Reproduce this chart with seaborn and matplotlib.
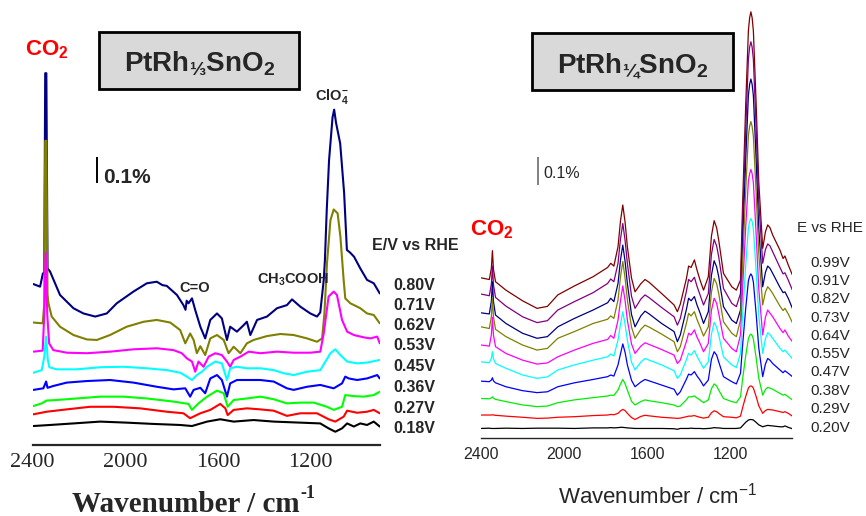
import matplotlib
matplotlib.use("Agg")
import matplotlib.pyplot as plt
import pandas as pd
import seaborn as sns
from matplotlib.patches import Rectangle
from matplotlib.font_manager import FontProperties, findfont
from matplotlib.ft2font import FT2Font

sns.set_style("white")
plt.rcParams["font.family"] = ["Liberation Sans", "DejaVu Sans"]
plt.rcParams["mathtext.fontset"] = "custom"
plt.rcParams["mathtext.rm"] = "Liberation Sans"
plt.rcParams["mathtext.bf"] = "Liberation Sans:bold"
plt.rcParams["mathtext.it"] = "Liberation Sans:italic"

# ---------------------------------------------------------------------------
# Data: in-situ FTIR difference spectra, intensity in units of 0.1 % (offset stacked)
# ---------------------------------------------------------------------------

# PtRh1/3/SnO2 electrode: (wavenumber, intensity) per potential
left_080 = [(2397, 6.19), (2368, 6.09), (2356, 6.6), (2350, 6.6), (2346, 14.3), (2341, 14.3),
            (2336, 6.8), (2325, 6.67), (2282, 5.77), (2224, 5.26), (2181, 5.06), (2130, 4.94),
            (2080, 5.06), (2037, 5.45), (1965, 5.9), (1907, 6.22), (1864, 6.28), (1840, 6.15),
            (1821, 6.12), (1777, 5.77), (1749, 5.38), (1740, 5.2), (1735, 5.55), (1727, 5.45),
            (1712, 5.64), (1698, 5.19), (1676, 4.55), (1655, 4.1), (1633, 4.81), (1604, 5.06),
            (1583, 4.87), (1561, 4.04), (1547, 4.55), (1518, 4.36), (1490, 4.6), (1475, 4.74),
            (1460, 4.23), (1431, 4.81), (1388, 4.94), (1345, 5.26), (1302, 5.38), (1280, 5.6),
            (1244, 5.32), (1201, 5.06), (1172, 4.94), (1158, 5.1), (1143, 6.35), (1138, 7.1),
            (1130, 9.04), (1120, 10.96), (1105, 12.6), (1098, 12.9), (1090, 12.4), (1072, 11.6),
            (1055, 9.7), (1043, 7.5), (1029, 7.4), (1012, 7.24), (985, 6.79), (956, 6.35),
            (927, 6.22), (901, 5.83)]
left_071 = [(2397, 4.71), (2357, 4.68), (2350, 5.4), (2346, 11.7), (2341, 11.7), (2336, 5.8),
            (2332, 5.45), (2318, 4.94), (2282, 4.55), (2224, 4.23), (2166, 4.06), (2123, 4.04),
            (2066, 4.23), (1994, 4.55), (1921, 4.74), (1864, 4.81), (1806, 4.71), (1763, 4.42),
            (1741, 3.91), (1720, 4.29), (1705, 4.04), (1691, 3.53), (1676, 3.8), (1655, 3.46),
            (1633, 4.1), (1604, 4.23), (1575, 4.04), (1554, 3.53), (1532, 3.78), (1503, 3.53),
            (1475, 3.91), (1446, 4.04), (1388, 4.19), (1330, 4.27), (1273, 4.23), (1215, 4.1),
            (1172, 3.97), (1150, 4.1), (1140, 5.06), (1129, 6.99), (1114, 8.65), (1100, 9.06),
            (1083, 8.91), (1071, 8.01), (1057, 6.35), (1050, 5.64), (1028, 5.45), (985, 5.26),
            (956, 5.06), (927, 5.0), (901, 4.68)]
left_062 = [(2397, 3.59), (2357, 3.63), (2350, 5.0), (2344, 7.4), (2337, 5.0), (2329, 3.91),
            (2311, 3.65), (2253, 3.55), (2166, 3.53), (2066, 3.59), (1965, 3.68), (1864, 3.72),
            (1792, 3.65), (1756, 3.53), (1734, 3.33), (1712, 3.21), (1698, 2.82), (1684, 3.21),
            (1662, 3.01), (1640, 3.4), (1611, 3.53), (1583, 3.46), (1561, 3.21), (1547, 3.01),
            (1532, 3.27), (1503, 3.4), (1467, 3.59), (1417, 3.53), (1345, 3.59), (1273, 3.55),
            (1201, 3.55), (1158, 3.59), (1143, 4.29), (1122, 5.71), (1100, 5.9), (1086, 5.77),
            (1064, 4.81), (1042, 4.36), (1013, 4.23), (970, 4.14), (941, 4.1), (912, 4.17),
            (901, 3.91)]
left_053 = [(2397, 2.78), (2361, 2.88), (2350, 3.4), (2342, 4.17), (2335, 3.3), (2328, 2.99),
            (2296, 2.91), (2210, 2.91), (2109, 2.99), (2008, 3.01), (1907, 2.95), (1821, 2.88),
            (1763, 2.78), (1734, 2.63), (1712, 2.5), (1691, 2.69), (1669, 2.82), (1647, 3.01),
            (1611, 3.21), (1583, 3.14), (1561, 2.5), (1547, 2.95), (1518, 3.01), (1475, 2.95),
            (1417, 2.95), (1359, 2.88), (1316, 2.76), (1273, 2.69), (1215, 2.82), (1158, 2.88),
            (1114, 3.53), (1093, 3.68), (1071, 3.46), (1042, 3.21), (999, 3.14), (956, 3.17),
            (901, 3.27)]
left_045 = [(2397, 2.12), (2354, 2.18), (2342, 2.44), (2336, 2.2), (2311, 2.27), (2253, 2.4),
            (2166, 2.46), (2066, 2.5), (1965, 2.4), (1864, 2.24), (1792, 2.14), (1741, 2.18),
            (1720, 1.86), (1705, 2.12), (1676, 2.2), (1655, 1.99), (1633, 2.56), (1604, 2.69),
            (1583, 2.5), (1561, 1.86), (1547, 2.37), (1518, 2.5), (1475, 2.5), (1417, 2.5),
            (1359, 2.44), (1302, 2.18), (1273, 2.12), (1215, 2.24), (1158, 2.31), (1100, 2.18),
            (1064, 2.37), (1050, 2.63), (1035, 2.56), (999, 2.5), (956, 2.56), (912, 2.69),
            (901, 2.56)]
left_036 = [(2397, 1.5), (2361, 1.6), (2340, 1.71), (2296, 1.73), (2210, 1.79), (2109, 1.86),
            (2008, 1.86), (1907, 1.79), (1792, 1.67), (1727, 1.58), (1712, 1.35), (1684, 1.6),
            (1647, 1.86), (1604, 2.09), (1575, 1.99), (1558, 1.47), (1532, 1.73), (1475, 1.79),
            (1417, 1.86), (1359, 1.76), (1302, 1.6), (1244, 1.63), (1186, 1.63), (1129, 1.47),
            (1100, 1.35), (1064, 1.47), (1050, 1.92), (1013, 1.88), (970, 1.86), (927, 1.92),
            (901, 2.05)]
left_027 = [(2397, 1.18), (2340, 1.28), (2253, 1.37), (2152, 1.47), (2051, 1.47), (1936, 1.41),
            (1821, 1.28), (1749, 1.22), (1720, 1.03), (1676, 1.22), (1633, 1.35), (1590, 1.58),
            (1568, 1.41), (1558, 1.15), (1532, 1.35), (1475, 1.41), (1417, 1.37), (1359, 1.32),
            (1302, 1.12), (1244, 1.22), (1172, 1.22), (1122, 0.99), (1093, 0.9), (1057, 1.09),
            (1042, 1.32), (999, 1.24), (956, 1.28), (927, 1.35), (901, 1.22)]
left_018 = [(2397, 0.73), (2325, 0.77), (2224, 0.83), (2109, 0.9), (1994, 0.86), (1878, 0.81),
            (1763, 0.77), (1712, 0.73), (1647, 0.9), (1590, 0.99), (1532, 0.9), (1446, 0.96),
            (1359, 0.9), (1244, 0.86), (1158, 0.83), (1122, 0.64), (1093, 0.51), (1064, 0.64),
            (1042, 0.83), (1013, 0.71), (985, 0.83), (956, 0.77), (927, 0.9), (901, 0.71)]

left_potentials = ["0.80V", "0.71V", "0.62V", "0.53V", "0.45V", "0.36V", "0.27V", "0.18V"]
left_spectra = [left_080, left_071, left_062, left_053, left_045, left_036, left_027, left_018]
left_colors = ["#000080", "#808000", "#ff00ff", "#00ffff", "#0000ff", "#00ff00", "#ff0000", "#000000"]

# PtRh1/4/SnO2 electrode: common wavenumber grid
right_wn = [2400, 2360, 2350, 2345, 2340, 2330, 2280, 2200, 2130, 2080,
            2030, 1950, 1860, 1790, 1775, 1760, 1740, 1728, 1717, 1706,
            1695, 1675, 1658, 1630, 1610, 1590, 1530, 1470, 1454, 1440,
            1410, 1400, 1388, 1372, 1360, 1345, 1328, 1305, 1290, 1277,
            1265, 1255, 1232, 1192, 1170, 1150, 1140, 1125, 1112, 1106,
            1100, 1094, 1088, 1075, 1062, 1043, 1030, 1019, 1008, 995,
            960, 945, 936, 920, 900]
right_099 = [5.71, 5.65, 6.06, 6.68, 6.01, 5.57, 5.27, 4.89, 4.62, 4.69,
             5.10, 5.42, 5.75, 6.08, 6.23, 6.13, 6.82, 7.75, 8.31, 7.70,
             6.82, 5.70, 5.21, 5.50, 5.65, 5.55, 5.15, 4.74, 4.50, 4.77,
             5.70, 6.13, 6.08, 6.35, 6.00, 5.63, 5.27, 5.75, 7.20, 7.75,
             7.50, 7.06, 5.87, 5.39, 5.27, 5.63, 8.31, 11.86, 14.54, 15.00,
             15.21, 15.00, 14.53, 12.00, 9.13, 6.76, 7.35, 7.60, 7.50, 7.24,
             6.70, 6.40, 6.49, 6.17, 5.81]
right_091 = [5.13, 5.07, 5.49, 6.13, 5.46, 5.01, 4.70, 4.32, 4.11, 4.18,
             4.56, 4.86, 5.18, 5.51, 5.67, 5.57, 6.23, 7.10, 7.65, 7.05,
             6.23, 5.05, 4.62, 4.95, 5.10, 5.00, 4.65, 4.32, 4.02, 4.26,
             5.25, 5.65, 5.57, 5.73, 5.42, 5.10, 4.74, 5.15, 6.55, 7.08,
             6.85, 6.46, 5.33, 4.80, 4.68, 5.15, 7.67, 10.99, 13.51, 13.95,
             14.14, 13.95, 13.51, 11.13, 8.44, 6.23, 6.72, 6.92, 6.85, 6.64,
             6.08, 5.85, 5.89, 5.63, 5.27]
right_082 = [4.46, 4.42, 4.88, 5.57, 4.86, 4.38, 4.08, 3.73, 3.55, 3.61,
             3.96, 4.26, 4.56, 4.82, 4.98, 4.86, 5.51, 6.35, 6.88, 6.30,
             5.51, 4.40, 3.96, 4.35, 4.52, 4.42, 4.08, 3.79, 3.43, 3.67,
             4.60, 4.98, 4.89, 5.04, 4.75, 4.46, 4.08, 4.50, 5.80, 6.32,
             6.10, 5.75, 4.68, 4.20, 4.08, 4.56, 6.87, 9.92, 12.23, 12.62,
             12.81, 12.62, 12.22, 9.99, 7.47, 5.39, 5.90, 6.13, 6.05, 5.87,
             5.37, 5.18, 5.21, 4.98, 4.62]
right_073 = [3.96, 3.90, 4.33, 4.98, 4.32, 3.87, 3.61, 3.31, 3.13, 3.19,
             3.55, 3.79, 4.08, 4.23, 4.35, 4.26, 4.92, 5.75, 6.29, 5.70,
             4.92, 3.95, 3.55, 3.87, 4.02, 3.95, 3.70, 3.43, 3.07, 3.25,
             4.10, 4.44, 4.35, 4.50, 4.23, 3.96, 3.63, 3.96, 5.20, 5.69,
             5.50, 5.15, 4.14, 3.73, 3.61, 4.20, 6.19, 8.81, 10.79, 11.12,
             11.29, 11.12, 10.77, 8.80, 6.57, 4.74, 5.20, 5.39, 5.30, 5.15,
             4.70, 4.54, 4.62, 4.42, 4.11]
right_064 = [3.31, 3.27, 3.68, 4.30, 3.67, 3.25, 3.01, 2.77, 2.63, 2.67,
             2.89, 3.13, 3.37, 3.51, 3.65, 3.55, 4.20, 4.90, 5.42, 4.90,
             4.20, 3.35, 3.01, 3.27, 3.39, 3.33, 3.15, 2.95, 2.65, 2.77,
             3.45, 3.73, 3.67, 3.85, 3.60, 3.37, 3.07, 3.37, 4.55, 4.98,
             4.80, 4.44, 3.55, 3.19, 3.07, 3.67, 5.32, 7.51, 9.17, 9.43,
             9.58, 9.43, 9.11, 7.33, 5.32, 3.67, 4.30, 4.56, 4.45, 4.32,
             3.90, 3.75, 3.85, 3.63, 3.43]
right_055 = [2.71, 2.68, 2.84, 3.07, 2.82, 2.65, 2.48, 2.24, 2.12, 2.17,
             2.42, 2.60, 2.77, 2.89, 2.99, 2.92, 3.49, 4.05, 4.50, 4.05,
             3.49, 2.70, 2.42, 2.70, 2.83, 2.77, 2.60, 2.39, 2.12, 2.24,
             2.80, 3.01, 2.95, 3.11, 2.91, 2.71, 2.48, 2.71, 3.70, 4.12,
             3.95, 3.67, 2.89, 2.60, 2.51, 3.01, 4.36, 6.14, 7.49, 7.72,
             7.83, 7.72, 7.45, 6.00, 4.36, 3.01, 3.53, 3.75, 3.68, 3.55,
             3.19, 3.07, 3.13, 2.99, 2.83]
right_047 = [2.02, 2.00, 2.06, 2.14, 2.03, 1.96, 1.82, 1.68, 1.61, 1.64,
             1.82, 1.96, 2.08, 2.18, 2.24, 2.20, 2.60, 3.00, 3.35, 3.05,
             2.60, 2.05, 1.82, 1.99, 2.08, 2.03, 1.88, 1.73, 1.52, 1.64,
             2.10, 2.27, 2.24, 2.36, 2.21, 2.06, 1.85, 2.06, 2.80, 3.07,
             2.95, 2.71, 2.18, 2.00, 1.92, 2.30, 3.29, 4.61, 5.60, 5.77,
             5.85, 5.77, 5.56, 4.46, 3.21, 2.18, 2.63, 2.83, 2.77, 2.65,
             2.42, 2.32, 2.39, 2.30, 2.18]
right_038 = [1.40, 1.39, 1.42, 1.46, 1.41, 1.37, 1.29, 1.17, 1.11, 1.13,
             1.25, 1.35, 1.43, 1.49, 1.52, 1.51, 1.70, 1.92, 2.08, 1.93,
             1.70, 1.30, 1.17, 1.29, 1.35, 1.32, 1.25, 1.17, 1.11, 1.13,
             1.36, 1.46, 1.46, 1.49, 1.42, 1.35, 1.25, 1.35, 1.75, 1.92,
             1.85, 1.70, 1.40, 1.29, 1.25, 1.46, 2.09, 2.92, 3.54, 3.65,
             3.70, 3.65, 3.53, 2.87, 2.13, 1.52, 1.72, 1.80, 1.77, 1.73,
             1.58, 1.52, 1.55, 1.46, 1.35]
right_029 = [0.81, 0.81, 0.81, 0.82, 0.81, 0.80, 0.77, 0.73, 0.69, 0.70,
             0.73, 0.75, 0.79, 0.81, 0.83, 0.82, 0.87, 0.96, 1.01, 0.97,
             0.87, 0.72, 0.65, 0.76, 0.80, 0.78, 0.73, 0.70, 0.69, 0.70,
             0.75, 0.77, 0.77, 0.79, 0.76, 0.73, 0.70, 0.73, 0.89, 0.96,
             0.93, 0.87, 0.75, 0.73, 0.71, 0.77, 1.07, 1.47, 1.77, 1.83,
             1.85, 1.83, 1.77, 1.48, 1.14, 0.87, 0.97, 1.01, 1.00, 0.99,
             0.93, 0.90, 0.93, 0.87, 0.77]
right_020 = [0.33, 0.34, 0.33, 0.33, 0.33, 0.33, 0.34, 0.33, 0.34, 0.34,
             0.34, 0.33, 0.35, 0.35, 0.36, 0.35, 0.36, 0.37, 0.37, 0.36,
             0.35, 0.34, 0.33, 0.33, 0.33, 0.33, 0.33, 0.32, 0.30, 0.33,
             0.33, 0.33, 0.34, 0.33, 0.33, 0.33, 0.32, 0.33, 0.34, 0.36,
             0.35, 0.35, 0.33, 0.33, 0.33, 0.35, 0.43, 0.55, 0.63, 0.645,
             0.65, 0.645, 0.63, 0.55, 0.46, 0.39, 0.42, 0.44, 0.43, 0.42,
             0.39, 0.39, 0.42, 0.37, 0.32]

right_potentials = ["0.99V", "0.91V", "0.82V", "0.73V", "0.64V", "0.55V", "0.47V", "0.38V", "0.29V", "0.20V"]
right_spectra = [right_099, right_091, right_082, right_073, right_064, right_055, right_047,
                 right_038, right_029, right_020]
right_colors = ["#800000", "#800080", "#000080", "#808000", "#ff00ff", "#00ffff", "#0000ff",
                "#00ee00", "#ff0000", "#000000"]

tick_values = [2400, 2000, 1600, 1200]
tick_labels = ["2400", "2000", "1600", "1200"]
minor_values = [2200, 1800, 1400, 1000]
scale_bar = 1.0  # 0.1 %

# ---------------------------------------------------------------------------
# Long-form tables for seaborn
# ---------------------------------------------------------------------------
rows = []
for pot, spec in zip(left_potentials, left_spectra):
    for wn, val in spec:
        rows.append({"wavenumber": wn, "signal": val, "E": pot})
df_left = pd.DataFrame(rows)

rows = []
for pot, spec in zip(right_potentials, right_spectra):
    for wn, val in zip(right_wn, spec):
        rows.append({"wavenumber": wn, "signal": val, "E": pot})
df_right = pd.DataFrame(rows)

W, H = 866, 516
fig = plt.figure(figsize=(W / 100, H / 100), dpi=100)


def fx(px):
    return px / W


def fy(py):
    return 1 - py / H


axL = fig.add_axes([fx(32.7), fy(445), fx(380) - fx(32.7), 445 / H])
axR = fig.add_axes([fx(481), fy(437.7), fx(792.4) - fx(481), 437.7 / H])

sns.lineplot(data=df_left, x="wavenumber", y="signal", hue="E", hue_order=left_potentials,
             palette=dict(zip(left_potentials, left_colors)), estimator=None, sort=False,
             legend=False, lw=1.5, ax=axL)
sns.lineplot(data=df_right, x="wavenumber", y="signal", hue="E", hue_order=right_potentials,
             palette=dict(zip(right_potentials, right_colors)), estimator=None, sort=False,
             legend=False, lw=0.9, ax=axR)

axL.set_xlim(2400, 900)
axL.set_ylim(0, 445 / 26)
axR.set_xlim(2400, 900)
axR.set_ylim(0, 437.7 / 28)

for ax in (axL, axR):
    ax.set_facecolor("none")
    for side in ("left", "right", "top"):
        ax.spines[side].set_visible(False)
    ax.set_yticks([])
    ax.set_xlabel("")
    ax.set_ylabel("")
    ax.set_xticks(tick_values)
    ax.set_xticks(minor_values, minor=True)

axL.spines["bottom"].set_linewidth(1.6)
axL.set_xticklabels(tick_labels, fontfamily="Liberation Serif", fontsize=16)
axL.tick_params(axis="x", which="major", direction="in", length=6, width=1.3, pad=6)
axL.tick_params(axis="x", which="minor", direction="in", length=3, width=1.3)

axR.spines["bottom"].set_linewidth(1.0)
axR.set_xticklabels(tick_labels, fontsize=11.5)
axR.tick_params(axis="x", which="both", direction="out", length=4, width=0.9, pad=2.5)

# scale bars (0.1 %)
axL.vlines(2121, 10.08, 10.08 + scale_bar, color="black", lw=1.4)
axR.vlines(2125, 9.03, 9.03 + scale_bar, color="#808080", lw=1.4)
fig.text(fx(103), fy(183), "0.1%", fontsize=15, fontweight="bold", ha="left", va="baseline")
fig.text(fx(543), fy(178.3), "0.1%", fontsize=11.5, ha="left", va="baseline")

# title boxes
bold_path = findfont(FontProperties(family="Liberation Sans", weight="bold"))
has_frac = 0x2153 in FT2Font(bold_path).get_charmap()
third = "⅓" if has_frac else "1/3"
quarter = "¼"
for (x0, y0, x1, y1), txt, cx, base in [
        ((99, 32, 299, 89), r"PtRh$_\mathbf{%s}$SnO$_\mathbf{2}$" % third, 199.5, 71.7),
        ((532, 33, 733, 90), r"PtRh$_\mathbf{%s}$SnO$_\mathbf{2}$" % quarter, 633, 73)]:
    fig.patches.append(Rectangle((fx(x0), fy(y1)), fx(x1) - fx(x0), (y1 - y0) / H,
                                 transform=fig.transFigure, facecolor="#d9d9d9",
                                 edgecolor="black", lw=2, zorder=0))
    fig.text(fx(cx), fy(base), txt, fontsize=20, fontweight="bold", ha="center", va="baseline")

# CO2 labels
fig.text(fx(25), fy(55), r"CO$_\mathbf{2}$", fontsize=16, fontweight="bold", color="red",
         ha="left", va="baseline")
fig.text(fx(470), fy(235), r"CO$_\mathbf{2}$", fontsize=16, fontweight="bold", color="red",
         ha="left", va="baseline")

# band assignments
fig.text(fx(332), fy(100), r"ClO$_\mathbf{4}^\mathbf{-}$", fontsize=10.5, fontweight="bold",
         ha="center", va="baseline")
fig.text(fx(195), fy(292), "C=O", fontsize=10.5, fontweight="bold", ha="center", va="baseline")
fig.text(fx(293), fy(284), r"CH$_\mathbf{3}$COOH", fontsize=10.5, fontweight="bold",
         ha="center", va="baseline")

# potential labels
fig.text(fx(372), fy(245), "E/V vs RHE", fontsize=11.5, fontweight="bold", ha="left", va="center")
for lab, y in zip(left_potentials, [286, 306, 325.7, 345.7, 366.7, 387.3, 408.3, 428.3]):
    fig.text(fx(393), fy(y), lab, fontsize=11.5, fontweight="bold", ha="left", va="center")
fig.text(fx(797), fy(227.7), "E vs RHE", fontsize=11, ha="left", va="center")
for lab, y in zip(right_potentials, [263.3, 281, 299.3, 317.7, 336, 354, 372.3, 390.7, 409.3, 427.7]):
    fig.text(fx(810), fy(y), lab, fontsize=11, ha="left", va="center")

# axis titles
main = fig.text(fx(72), fy(511.7), "Wavenumber / cm", fontsize=21, fontweight="bold",
                fontfamily="Liberation Serif", ha="left", va="baseline")
fig.canvas.draw()
bb = main.get_window_extent()
fig.text(bb.x1 / W + 0.001, fy(498), "-1", fontsize=13, fontweight="bold",
         fontfamily="Liberation Serif", ha="left", va="baseline")
fig.text(fx(658), fy(503.3), r"Wavenumber / cm$^{-1}$", fontsize=16, ha="center", va="baseline")

fig.savefig("out.png", dpi=100)
